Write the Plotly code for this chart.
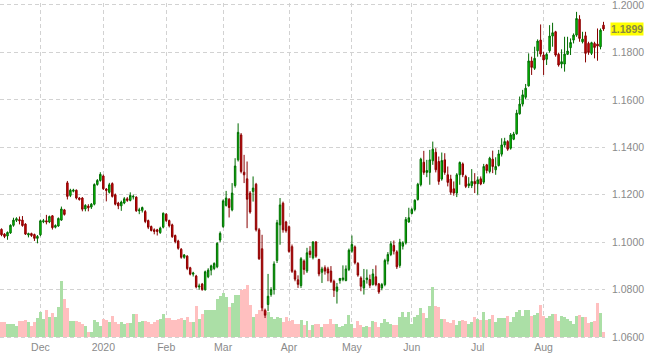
import pandas as pd
import plotly.graph_objects as go

# ---- categories: US trading days shown on the chart ----
holidays = ['2019-11-28', '2019-12-25', '2020-01-01', '2020-01-20', '2020-02-17',
            '2020-04-10', '2020-05-25', '2020-07-03']
dates = [d.strftime('%Y-%m-%d') for d in pd.bdate_range('2019-11-12', '2020-08-31')
         if d.strftime('%Y-%m-%d') not in holidays]

month_labels = ['Dec', '2020', 'Feb', 'Mar', 'Apr', 'May', 'Jun', 'Jul', 'Aug']
last_label = '1.1899'

open_ = [
    1.1054, 1.1034, 1.1026, 1.1039, 1.1071, 1.1092, 1.1095, 1.1093, 1.1076, 1.1030,
    1.1036, 1.1032, 1.1016, 1.1031, 1.1086, 1.1090, 1.1085, 1.1111, 1.1063, 1.1068,
    1.1093, 1.1136, 1.1250, 1.1197, 1.1215, 1.1219, 1.1186, 1.1186, 1.1140, 1.1152,
    1.1148, 1.1160, 1.1243, 1.1260, 1.1279, 1.1224, 1.1210, 1.1247, 1.1200, 1.1165,
    1.1153, 1.1165, 1.1183, 1.1176, 1.1190, 1.1190, 1.1132, 1.1134, 1.1129, 1.1091,
    1.1066, 1.1052, 1.1052, 1.1040, 1.1063, 1.1118, 1.1091, 1.1073, 1.1028, 1.1005,
    1.0970, 1.0936, 1.0941, 1.0892, 1.0865, 1.0857, 1.0811, 1.0823, 1.0800, 1.0854,
    1.0882, 1.0889, 1.0896, 1.1009, 1.1066, 1.1155, 1.1181, 1.1136, 1.1239, 1.1347,
    1.1452, 1.1295, 1.1267, 1.1207, 1.1214, 1.1244, 1.1052, 1.0972, 1.0713, 1.0737,
    1.0779, 1.0800, 1.0923, 1.1073, 1.1164, 1.1085, 1.1065, 1.0981, 1.0878, 1.0841,
    1.0817, 1.0920, 1.0878, 1.0962, 1.0934, 1.1001, 1.0927, 1.0873, 1.0892, 1.0887,
    1.0878, 1.0835, 1.0793, 1.0838, 1.0842, 1.0838, 1.0885, 1.0962, 1.0980, 1.0910,
    1.0849, 1.0807, 1.0842, 1.0842, 1.0821, 1.0854, 1.0824, 1.0807, 1.0821, 1.0920,
    1.0948, 1.0986, 1.0959, 1.0902, 1.0983, 1.0997, 1.1085, 1.1121, 1.1138, 1.1180,
    1.1242, 1.1337, 1.1294, 1.1294, 1.1343, 1.1379, 1.1340, 1.1266, 1.1347, 1.1284,
    1.1266, 1.1225, 1.1207, 1.1284, 1.1330, 1.1277, 1.1238, 1.1238, 1.1256, 1.1246,
    1.1267, 1.1253, 1.1326, 1.1298, 1.1350, 1.1305, 1.1323, 1.1371, 1.1410, 1.1424,
    1.1396, 1.1434, 1.1457, 1.1541, 1.1582, 1.1611, 1.1659, 1.1764, 1.1733, 1.1807,
    1.1852, 1.1789, 1.1771, 1.1807, 1.1869, 1.1887, 1.1792, 1.1751, 1.1751, 1.1792,
    1.1820, 1.1852, 1.1873, 1.1940, 1.1845, 1.1870, 1.1838, 1.1796, 1.1838, 1.1835,
    1.1824, 1.1915]

high = [
    1.1058, 1.1038, 1.1045, 1.1075, 1.1103, 1.1105, 1.1108, 1.1110, 1.1080, 1.1040,
    1.1040, 1.1036, 1.1030, 1.1095, 1.1098, 1.1115, 1.1112, 1.1114, 1.1075, 1.1104,
    1.1150, 1.1140, 1.1258, 1.1225, 1.1225, 1.1222, 1.1190, 1.1190, 1.1160, 1.1160,
    1.1165, 1.1248, 1.1266, 1.1295, 1.1285, 1.1228, 1.1250, 1.1252, 1.1205, 1.1170,
    1.1175, 1.1190, 1.1190, 1.1210, 1.1200, 1.1193, 1.1145, 1.1150, 1.1135, 1.1095,
    1.1070, 1.1058, 1.1056, 1.1065, 1.1125, 1.1122, 1.1095, 1.1078, 1.1032, 1.1010,
    1.0975, 1.0950, 1.0945, 1.0896, 1.0875, 1.0862, 1.0825, 1.0828, 1.0880, 1.0890,
    1.0905, 1.0915, 1.1000, 1.1045, 1.1180, 1.1216, 1.1186, 1.1249, 1.1354, 1.1501,
    1.1460, 1.1368, 1.1340, 1.1215, 1.1277, 1.1250, 1.1060, 1.1031, 1.0720, 1.0866,
    1.0810, 1.0919, 1.1094, 1.1186, 1.1171, 1.1090, 1.1070, 1.0990, 1.0884, 1.0860,
    1.0937, 1.0927, 1.0976, 1.0983, 1.1004, 1.1004, 1.0930, 1.0896, 1.0902, 1.0896,
    1.0899, 1.0842, 1.0828, 1.0849, 1.0902, 1.0902, 1.0973, 1.1028, 1.0986, 1.0916,
    1.0856, 1.0887, 1.0885, 1.0863, 1.0887, 1.0902, 1.0828, 1.0828, 1.0930, 1.0958,
    1.1004, 1.1007, 1.0966, 1.1014, 1.1004, 1.1106, 1.1145, 1.1145, 1.1180, 1.1250,
    1.1356, 1.1385, 1.1347, 1.1389, 1.1424, 1.1396, 1.1361, 1.1378, 1.1375, 1.1319,
    1.1284, 1.1256, 1.1291, 1.1340, 1.1336, 1.1284, 1.1274, 1.1308, 1.1291, 1.1277,
    1.1277, 1.1330, 1.1330, 1.1360, 1.1386, 1.1358, 1.1389, 1.1438, 1.1440, 1.1430,
    1.1460, 1.1465, 1.1558, 1.1614, 1.1642, 1.1667, 1.1796, 1.1782, 1.1824, 1.1855,
    1.1918, 1.1803, 1.1799, 1.1915, 1.1925, 1.1891, 1.1799, 1.1813, 1.1866, 1.1866,
    1.1859, 1.1880, 1.1971, 1.1957, 1.1887, 1.1887, 1.1845, 1.1845, 1.1845, 1.1901,
    1.1901, 1.1929]

low = [
    1.1025, 1.1017, 1.1010, 1.1035, 1.1065, 1.1085, 1.1075, 1.1065, 1.1030, 1.1020,
    1.1022, 1.1005, 1.0995, 1.1025, 1.1080, 1.1075, 1.1080, 1.1053, 1.1058, 1.1065,
    1.1090, 1.1112, 1.1180, 1.1190, 1.1210, 1.1180, 1.1175, 1.1130, 1.1130, 1.1130,
    1.1140, 1.1155, 1.1238, 1.1255, 1.1220, 1.1172, 1.1205, 1.1188, 1.1155, 1.1139,
    1.1132, 1.1160, 1.1170, 1.1172, 1.1180, 1.1128, 1.1118, 1.1125, 1.1080, 1.1055,
    1.1045, 1.1033, 1.1028, 1.1035, 1.1058, 1.1085, 1.1062, 1.1018, 1.0995, 1.0968,
    1.0930, 1.0930, 1.0882, 1.0860, 1.0855, 1.0805, 1.0800, 1.0795, 1.0795, 1.0848,
    1.0860, 1.0882, 1.0890, 1.1000, 1.1060, 1.1150, 1.1104, 1.1130, 1.1230, 1.1340,
    1.1290, 1.1249, 1.1059, 1.1120, 1.1171, 1.1045, 1.0925, 1.0709, 1.0680, 1.0709,
    1.0770, 1.0779, 1.0912, 1.0989, 1.1040, 1.1040, 1.0955, 1.0870, 1.0835, 1.0807,
    1.0807, 1.0863, 1.0870, 1.0934, 1.0927, 1.0934, 1.0856, 1.0828, 1.0863, 1.0835,
    1.0828, 1.0769, 1.0741, 1.0825, 1.0835, 1.0835, 1.0878, 1.0955, 1.0906, 1.0854,
    1.0793, 1.0779, 1.0825, 1.0807, 1.0817, 1.0814, 1.0782, 1.0797, 1.0814, 1.0906,
    1.0941, 1.0948, 1.0887, 1.0892, 1.0969, 1.0990, 1.1082, 1.1117, 1.1130, 1.1175,
    1.1235, 1.1284, 1.1274, 1.1242, 1.1326, 1.1294, 1.1242, 1.1259, 1.1284, 1.1235,
    1.1200, 1.1196, 1.1190, 1.1242, 1.1274, 1.1228, 1.1228, 1.1228, 1.1207, 1.1200,
    1.1240, 1.1245, 1.1290, 1.1290, 1.1291, 1.1284, 1.1319, 1.1361, 1.1400, 1.1385,
    1.1390, 1.1430, 1.1453, 1.1538, 1.1572, 1.1603, 1.1656, 1.1705, 1.1726, 1.1782,
    1.1782, 1.1705, 1.1747, 1.1799, 1.1824, 1.1782, 1.1740, 1.1733, 1.1719, 1.1789,
    1.1789, 1.1838, 1.1866, 1.1845, 1.1838, 1.1758, 1.1790, 1.1789, 1.1775, 1.1765,
    1.1813, 1.1891]

close = [
    1.1031, 1.1024, 1.1041, 1.1071, 1.1093, 1.1099, 1.1090, 1.1070, 1.1034, 1.1036,
    1.1028, 1.1016, 1.1024, 1.1090, 1.1090, 1.1085, 1.1108, 1.1061, 1.1070, 1.1100,
    1.1140, 1.1117, 1.1193, 1.1219, 1.1219, 1.1186, 1.1180, 1.1139, 1.1155, 1.1145,
    1.1160, 1.1243, 1.1260, 1.1286, 1.1225, 1.1218, 1.1242, 1.1193, 1.1160, 1.1153,
    1.1169, 1.1183, 1.1176, 1.1197, 1.1193, 1.1132, 1.1136, 1.1146, 1.1087, 1.1063,
    1.1049, 1.1045, 1.1045, 1.1059, 1.1122, 1.1091, 1.1069, 1.1023, 1.1002, 1.0974,
    1.0936, 1.0946, 1.0889, 1.0865, 1.0870, 1.0811, 1.0815, 1.0800, 1.0875, 1.0882,
    1.0900, 1.0910, 1.0995, 1.1037, 1.1174, 1.1186, 1.1146, 1.1207, 1.1321, 1.1463,
    1.1298, 1.1284, 1.1181, 1.1127, 1.1228, 1.1052, 1.0930, 1.0723, 1.0692, 1.0772,
    1.0800, 1.0908, 1.1082, 1.1157, 1.1052, 1.1048, 1.0961, 1.0877, 1.0844, 1.0822,
    1.0930, 1.0885, 1.0955, 1.0948, 1.1001, 1.0941, 1.0866, 1.0887, 1.0878, 1.0870,
    1.0835, 1.0797, 1.0811, 1.0847, 1.0849, 1.0887, 1.0966, 1.0990, 1.0913, 1.0861,
    1.0814, 1.0838, 1.0849, 1.0818, 1.0866, 1.0821, 1.0790, 1.0821, 1.0923, 1.0948,
    1.0993, 1.0962, 1.0896, 1.1000, 1.0997, 1.1096, 1.1103, 1.1138, 1.1177, 1.1244,
    1.1350, 1.1294, 1.1302, 1.1347, 1.1392, 1.1305, 1.1256, 1.1344, 1.1294, 1.1252,
    1.1210, 1.1207, 1.1284, 1.1336, 1.1284, 1.1235, 1.1246, 1.1256, 1.1246, 1.1263,
    1.1245, 1.1319, 1.1302, 1.1354, 1.1319, 1.1319, 1.1372, 1.1410, 1.1424, 1.1392,
    1.1452, 1.1456, 1.1544, 1.1582, 1.1621, 1.1649, 1.1764, 1.1737, 1.1775, 1.1848,
    1.1793, 1.1768, 1.1792, 1.1869, 1.1883, 1.1789, 1.1747, 1.1761, 1.1793, 1.1806,
    1.1842, 1.1873, 1.1943, 1.1859, 1.1856, 1.1796, 1.1800, 1.1841, 1.1821, 1.1827,
    1.1894, 1.1899]

volume = [
    15, 15, 13, 13, 13, 11, 16, 16, 17, 15,
    11, 15, 19, 25, 18, 27, 20, 24, 20, 30,
    56, 38, 29, 16, 16, 16, 15, 13, 11, 5,
    5, 17, 15, 11, 18, 17, 15, 21, 15, 13,
    15, 13, 14, 14, 23, 23, 15, 16, 16, 15,
    13, 15, 17, 18, 23, 19, 19, 17, 17, 18,
    19, 17, 20, 15, 15, 31, 18, 23, 27, 27,
    27, 27, 38, 41, 44, 40, 30, 34, 42, 42,
    47, 48, 52, 32, 20, 23, 27, 29, 26, 25,
    20, 18, 20, 19, 15, 20, 16, 17, 13, 13,
    17, 12, 16, 7, 12, 13, 13, 10, 13, 13,
    18, 13, 13, 10, 11, 13, 22, 13, 9, 16,
    12, 10, 11, 10, 16, 15, 10, 14, 18, 15,
    13, 12, 12, 20, 25, 20, 25, 13, 20, 22,
    29, 24, 19, 31, 50, 31, 30, 18, 18, 15,
    14, 17, 12, 16, 17, 16, 13, 15, 20, 18,
    17, 25, 17, 18, 22, 15, 19, 19, 19, 21,
    15, 20, 25, 27, 21, 27, 27, 21, 22, 24,
    32, 21, 19, 21, 23, 23, 16, 21, 20, 18,
    16, 13, 21, 22, 20, 20, 14, 15, 16, 34,
    24, 5]

# ---- styling ----
UP_FILL, UP_LINE = '#00e000', '#006a00'
DN_FILL, DN_LINE = '#e00000', '#880000'
VOL_UP, VOL_DN = '#abdfa6', '#ffbfbf'
GRID = '#d2d2d2'
LABEL = '#8a8a8a'
FONT = 'Liberation Sans, Arial, sans-serif'

vol_colors = [VOL_UP if c >= o else VOL_DN for o, c in zip(open_, close)]

# first trading day of each month from December on
month_starts = []
seen = set()
for d in dates:
    ym = d[:7]
    if ym not in seen:
        seen.add(ym)
        if ym >= '2019-12':
            month_starts.append(d)

fig = go.Figure()
fig.add_trace(go.Bar(
    x=dates, y=volume, base=0, yaxis='y', marker=dict(color=vol_colors, line=dict(width=0)),
    hoverinfo='skip'))
fig.add_trace(go.Candlestick(
    x=dates, open=open_, high=high, low=low, close=close, yaxis='y2',
    increasing=dict(line=dict(color=UP_LINE, width=1), fillcolor=UP_FILL),
    decreasing=dict(line=dict(color=DN_LINE, width=1), fillcolor=DN_FILL),
    whiskerwidth=0))

fig.update_layout(
    width=648, height=356,
    margin=dict(l=0, r=43, t=3, b=17),
    paper_bgcolor='white', plot_bgcolor='white',
    showlegend=False, bargap=0,
    font=dict(family=FONT, size=10.5, color=LABEL),
    xaxis=dict(
        type='category', range=[-0.5, len(dates) - 0.5],
        tickmode='array', tickvals=month_starts, ticktext=month_labels,
        showgrid=True, gridcolor=GRID, griddash='4px,3px', gridwidth=1,
        zeroline=False, showline=False, ticks='',
        tickfont=dict(family=FONT, size=10.5, color=LABEL),
        rangeslider=dict(visible=False), fixedrange=True),
    yaxis=dict(range=[-2, 334], visible=False, showgrid=False, fixedrange=True),
    yaxis2=dict(
        overlaying='y', side='right', range=[1.05916, 1.20084],
        tickmode='array', tickvals=[1.06, 1.08, 1.10, 1.12, 1.14, 1.16, 1.18, 1.20],
        tickformat='.4f', ticklabeloverflow='allow',
        showgrid=True, gridcolor=GRID, griddash='4px,3px', gridwidth=1,
        zeroline=False, showline=False, ticks='', ticklabelstandoff=6,
        tickfont=dict(family=FONT, size=10.5, color=LABEL), fixedrange=True),
)

fig.add_annotation(
    xref='paper', x=1, xanchor='left', xshift=5,
    yref='y2', y=close[-1], yanchor='middle',
    text='<b>' + last_label + '</b>', showarrow=False,
    bgcolor='#ffff00', borderpad=0,
    font=dict(family=FONT, size=10.5, color='#8a8a40'))

fig.write_html('out.html')
